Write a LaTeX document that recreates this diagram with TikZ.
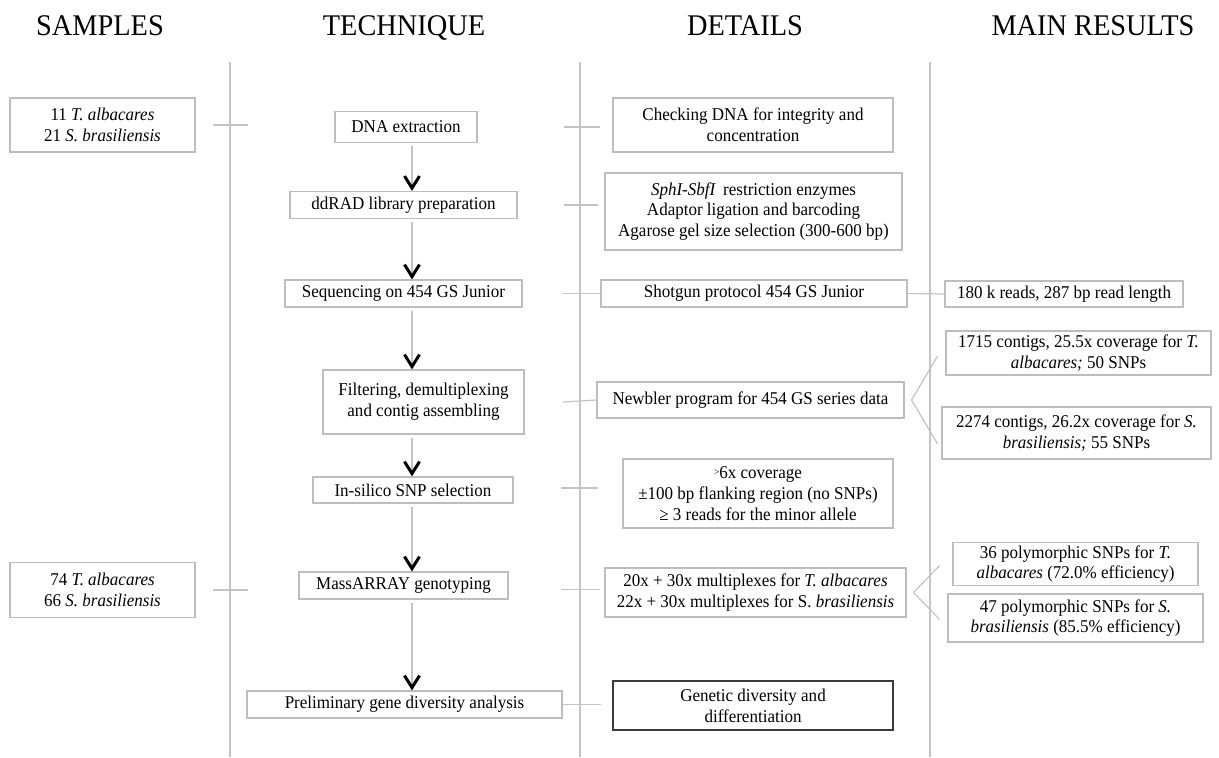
\documentclass[tikz,border=0pt]{standalone}
\usepackage{fontspec}
\setmainfont{Liberation Serif}[FakeStretch=0.945]
\usepackage{tikz}
\usepackage{xcolor}
\usetikzlibrary{
    arrows.meta,
    calc,
    positioning
}
\newlength\px
\setlength\px{0.5pt}
\definecolor{boxgray}{HTML}{BDBDBD}
\definecolor{linegray}{HTML}{C4C4C4}
\definecolor{darkbox}{HTML}{3A3A3A}

\tikzset{
    box/.style={draw=boxgray, line width=1.2\px, align=center, inner sep=0pt,
        font=\fontsize{9}{10.4}\selectfont},
    head/.style={anchor=base, font=\fontsize{15}{18}\selectfont},
    colline/.style={draw=linegray, line width=1.2\px},
    link/.style={draw=linegray, line width=1.2\px},
    flow/.style={draw=linegray, line width=1.2\px, shorten <=3\px,
        -{Straight Barb[color=black, length=6pt, width=7.5pt, line width=1.5pt]}}
}

\begin{document}
\begin{tikzpicture}[x=1\px, y=-1\px]
                        \useasboundingbox (0,0) rectangle (1219,757);

                        % column headers
                        \node[head] (hsmp) at (100,35) {SAMPLES};
                        \node[head] (htec) at (404,35) {TECHNIQUE};
                        \node[head] (hdet) at (745,35) {DETAILS};
                        \node[head] (hres) at (1093,35) {MAIN RESULTS};

                        % column separators
                        \coordinate (c1) at (230,62);
                        \coordinate (c2) at (580,62);
                        \coordinate (c3) at (930,62);
                        \draw[colline] (c1) -- ++(0,695);
                        \draw[colline] (c2) -- ++(0,695);
                        \draw[colline] (c3) -- ++(0,695);
                        \coordinate (ax) at (412,0);

                        % samples
                        \node[box, minimum width=185\px, minimum height=54\px] (smp1) at (102.5,125) {11 \textit{T. albacares}\\21 \textit{S. brasiliensis}};
                        \node[box, minimum width=185\px, minimum height=55\px] (smp2) at (102.5,590) {74 \textit{T. albacares}\\66 \textit{S. brasiliensis}};

                        % technique
                        \node[box, minimum width=142\px, minimum height=31\px] (dna) at (406,127) {DNA extraction};
                        \node[box, minimum width=227\px, minimum height=27\px] (ddrad) at (403.5,205) {ddRAD library preparation};
                        \node[box, minimum width=237\px, minimum height=27\px] (seq) at (403.5,293.5) {Sequencing on 454 GS Junior};
                        \node[box, minimum width=201\px, minimum height=64\px] (filt) at (423.5,402) {Filtering, demultiplexing\\and contig assembling};
                        \node[box, minimum width=200\px, minimum height=26\px] (insil) at (413,490) {In-silico SNP selection};
                        \node[box, minimum width=209\px, minimum height=27\px] (mass) at (403.5,585.5) {MassARRAY genotyping};
                        \node[box, minimum width=315\px, minimum height=27\px] (prel) at (404.5,704.5) {Preliminary gene diversity analysis};

                        % details
                        \node[box, minimum width=280\px, minimum height=54\px] (chk) at (753,125) {Checking DNA for integrity and\\concentration};
                        \node[box, minimum width=297\px, minimum height=77\px] (enz) at (753.5,211.5) {\textit{SphI-SbfI}\, restriction enzymes\\Adaptor ligation and barcoding\\Agarose gel size selection (300-600 bp)};
                        \node[box, minimum width=306\px, minimum height=27\px] (shot) at (754,293.5) {Shotgun protocol 454 GS Junior};
                        \node[box, minimum width=307\px, minimum height=36\px] (newb) at (750.5,400) {Newbler program for 454 GS series data};
                        \node[box, minimum width=270\px, minimum height=69\px] (cov) at (758,493.5) {\raisebox{0.35ex}{\fontsize{5}{5}\selectfont >}6x coverage\\±100 bp flanking region (no SNPs)\\≥ 3 reads for the minor allele};
                        \node[box, minimum width=301\px, minimum height=49\px] (mult) at (755.5,592.5) {20x + 30x multiplexes for \textit{T. albacares}\\22x + 30x multiplexes for S. \textit{brasiliensis}};
                        \node[box, draw=darkbox, minimum width=280\px, minimum height=49\px] (gen) at (753,705.5) {Genetic diversity and\\differentiation};

                        % results
                        \node[box, minimum width=238\px, minimum height=26\px] (r180) at (1064,294) {180 k reads, 287 bp read length};
                        \node[box, minimum width=265\px, minimum height=44\px] (r1715) at (1078.5,353) {1715 contigs, 25.5x coverage for \textit{T.}\\\textit{albacares;} 50 SNPs};
                        \node[box, minimum width=269\px, minimum height=52\px] (r2274) at (1076.5,433) {2274 contigs, 26.2x coverage for \textit{S.}\\\textit{brasiliensis;} 55 SNPs};
                        \node[box, minimum width=245\px, minimum height=43\px] (r36) at (1075.5,564) {36 polymorphic SNPs for \textit{T.}\\\textit{albacares} (72.0\%\ efficiency)};
                        \node[box, minimum width=255\px, minimum height=48\px] (r47) at (1075.5,618) {47 polymorphic SNPs for \textit{S.}\\\textit{brasiliensis} (85.5\%\ efficiency)};

                        % flow arrows
                        \draw[flow] (dna.south -| ax) -- (ddrad.north -| ax);
                        \draw[flow] (ddrad.south -| ax) -- (seq.north -| ax);
                        \draw[flow] (seq.south -| ax) -- (filt.north -| ax);
                        \draw[flow] (filt.south -| ax) -- (insil.north -| ax);
                        \draw[flow] (insil.south -| ax) -- (mass.north -| ax);
                        \draw[flow] (mass.south -| ax) -- (prel.north -| ax);

                        % links across columns
                        \draw[link] (smp1.east -| c1) ++(-17,0) -- ++(35,0);
                        \draw[link] (dna.east -| c2) ++(-16,0) -- ++(36,0);
                        \draw[link] (ddrad.east -| c2) ++(-16,0) -- ++(34,0);
                        \draw[link] (seq.east -| c2) ++(-17,0) -- (shot.west);
                        \draw[link] (shot.east) -- (r180.west);
                        \draw[link] (filt.east -| c2) ++(-17,0) -- (newb.west);
                        \draw[link] (insil.east -| c2) ++(-19,-2) -- ++(37,0);
                        \draw[link] (smp2.east -| c1) ++(-17,0) -- ++(35,0);
                        \draw[link] (mass.east -| c2) ++(-19,4) -- ++(39,0);
                        \draw[link] (prel.east) -- ++(38,0);

                        % forks to results
                        \coordinate (fk1) at ($(newb.east)+(7,0)$);
                        \draw[link] (fk1) -- ++(26,-44);
                        \draw[link] (fk1) -- ++(26,44);
                        \coordinate (fk2) at ($(mult.east)+(7,0)$);
                        \draw[link] (fk2) -- ++(26,-27);
                        \draw[link] (fk2) -- ++(26,27);
\end{tikzpicture}
\end{document}
